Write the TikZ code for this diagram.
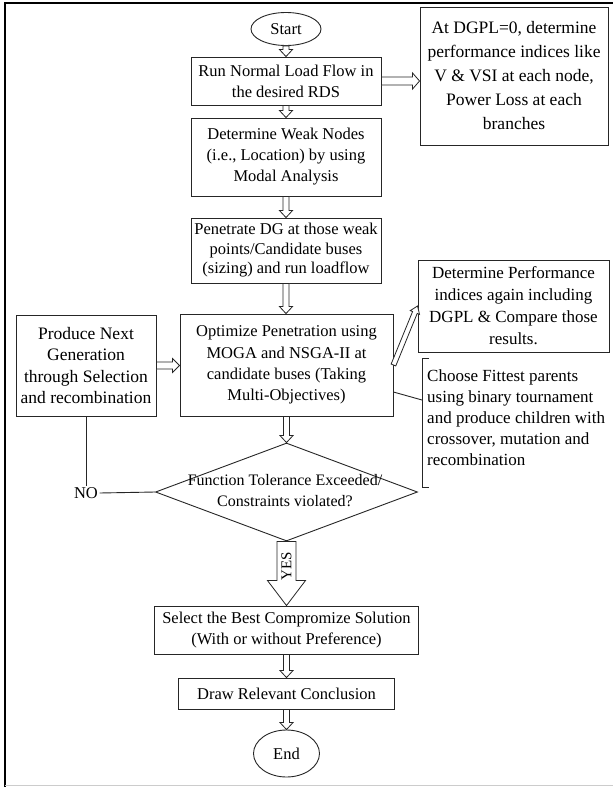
\documentclass[tikz,border=0pt]{standalone}
\usepackage{fontspec}
\setmainfont{Liberation Serif}
\usetikzlibrary{shapes.geometric,calc}
\tikzset{
  box/.style={draw=black!85, line width=0.9pt, fill=white, align=center, inner sep=0pt, font=\fontsize{16.5}{21}\selectfont},
  oval/.style={draw=black!85, line width=0.9pt, ellipse, inner sep=0pt, font=\fontsize{16.5}{21}\selectfont},
  harrow/.style={draw=black!85, line width=0.8pt, fill=white, line join=miter},
  conn/.style={draw=black!85, line width=0.9pt},
}
% hollow arrow: #2 from, #3 to, #4 half shaft, #5 half head, #6 head length
\newcommand\harr[6][]{%
  \draw[harrow,#1] let \p1=(#2), \p2=(#3),
    \n1={atan2(\y2-\y1,\x2-\x1)}, \n2={veclen(\x2-\x1,\y2-\y1)} in
    [shift={(\p1)}, rotate=\n1]
    (0pt,#4pt) -- ({\n2*1pt-#6pt},#4pt) -- ({\n2*1pt-#6pt},#5pt) -- ({\n2*1pt},0pt)
    -- ({\n2*1pt-#6pt},-#5pt) -- ({\n2*1pt-#6pt},-#4pt) -- (0pt,-#4pt) -- cycle;
}
\begin{document}
\begin{tikzpicture}[x=1pt,y=-1pt]
\useasboundingbox (0,0) rectangle (613,787);
\fill[white] (0,0) rectangle (613,787);
\draw[line width=1.6pt] (5,787) -- (5,3) -- (613,3);
\draw[black!20, line width=1pt] (5,785) -- (613,785);

\node[oval, minimum width=70pt, minimum height=33pt] (start) at (286,29) {Start};
\node[box, minimum width=190pt, minimum height=48pt] (b1) at (286,81) {Run Normal Load Flow in\\the desired RDS};
\node[box, minimum width=188pt, minimum height=138pt, font=\fontsize{17.5}{24}\selectfont] (ra) at (514,76) {At DGPL=0, determine\\performance indices like\\V \& VSI at each node,\\Power Loss at each\\branches};
\node[box, minimum width=190pt, minimum height=78pt] (b2) at (286,157) {Determine Weak Nodes\\(i.e., Location) by using\\Modal Analysis};
\node[box, minimum width=190pt, minimum height=65pt, font=\fontsize{16.5}{19.5}\selectfont] (b3) at (286,250.5) {Penetrate DG at those weak\\points/Candidate buses\\(sizing) and run loadflow};
\node[box, minimum width=191pt, minimum height=92pt, font=\fontsize{17}{22}\selectfont] (rb) at (513.5,306) {Determine Performance\\indices again including\\DGPL \& Compare those\\results.};
\node[box, minimum width=140pt, minimum height=101pt, font=\fontsize{17.5}{21.3}\selectfont] (lb) at (86,365.5) {Produce Next\\Generation\\through Selection\\and recombination};
\node[box, minimum width=213pt, minimum height=102pt, font=\fontsize{16.5}{21.3}\selectfont] (b4) at (286.5,365) {Optimize Penetration using\\MOGA and NSGA-II at\\candidate buses (Taking\\Multi-Objectives)};
\node[draw=black!85, line width=0.9pt, diamond, minimum width=262pt, minimum height=98pt, inner sep=0pt] (dia) at (286.5,492) {};
\node[align=center, inner sep=0pt, font=\fontsize{16}{21}\selectfont] (diat) at (285,491) {Function Tolerance Exceeded/\\Constraints violated?};
\node[box, minimum width=264pt, minimum height=48pt] (sel) at (286.5,630) {Select the Best Compromize Solution\\(With or without Preference)};
\node[box, minimum width=216pt, minimum height=31pt] (drw) at (286.5,693.5) {Draw Relevant Conclusion};
\node[oval, minimum width=66pt, minimum height=47pt] (end) at (286.5,753.5) {End};
\node[font=\fontsize{17}{21}\selectfont, align=left, anchor=west, inner sep=0pt] (fit) at (427,418) {Choose Fittest parents\\using binary tournament\\and produce children with\\crossover, mutation and\\recombination};
\node[inner sep=1.5pt, font=\fontsize{16.5}{21}\selectfont] (no) at (86,493) {NO};

% bracket callout
\coordinate (brt) at (422,358);
\coordinate (brb) at (422,487);
\coordinate (brc) at (422,400);
\draw[conn] ([xshift=7pt]brt) -- (brt) -- (brb) -- ([xshift=7pt]brb);
\draw[conn] ([yshift=-27pt]b4.east) -- (brc);

% NO loop
\draw[conn] (lb.south) -- (no.north);
\draw[conn] (no.east) -- (dia.west);

% hollow arrows
\harr{start.south}{start.south |- b1.north}{3}{6.5}{7}
\harr{b1.south}{b1.south |- b2.north}{3}{6.5}{7}
\harr{b2.south}{b2.south |- b3.north}{3}{6.5}{7}
\harr{b3.south}{b3.south |- b4.north}{3}{6.5}{7}
\harr{b4.south}{b4.south |- dia.north}{3}{6.5}{7}
\harr{sel.south}{sel.south |- drw.north}{3}{6.5}{7}
\harr{drw.south}{drw.south |- end.north}{3}{6.5}{7}
\harr{b1.east}{b1.east -| ra.west}{4}{8}{7}
\harr{lb.east}{lb.east -| b4.west}{3.5}{7}{7}
\harr{b4.east}{rb.west}{2.5}{5}{7}
\harr{dia.south}{dia.south |- sel.north}{9.5}{19}{25}
\node[rotate=90, inner sep=0pt, font=\fontsize{15}{15}\selectfont] (yes) at (286.5,566) {YES};
\end{tikzpicture}
\end{document}
